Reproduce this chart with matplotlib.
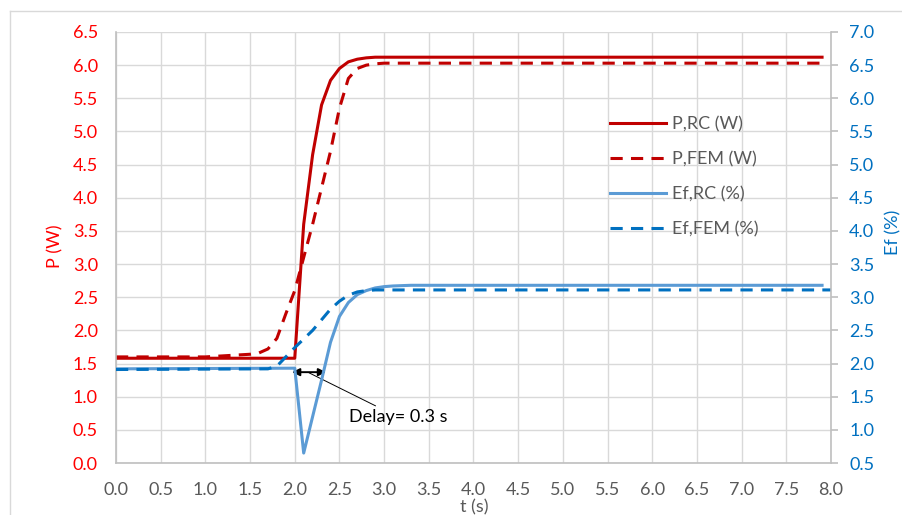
import numpy as np
import matplotlib
matplotlib.use("Agg")
import matplotlib.pyplot as plt
from matplotlib.lines import Line2D
from matplotlib.ticker import MultipleLocator, FormatStrFormatter

plt.rcParams['font.family'] = ['Lato', 'DejaVu Sans']

# power, RC model (W)
t_p_rc = [0.0, 2.0, 2.1, 2.2, 2.3, 2.4, 2.5, 2.6, 2.7, 2.8, 2.9, 3.0, 7.9]
p_rc = [1.58, 1.58, 3.6, 4.65, 5.4, 5.77, 5.95, 6.05, 6.09, 6.11, 6.12, 6.12, 6.12]

# power, FEM model (W)
t_p_fem = [0.0, 1.0, 1.5, 1.6, 1.7, 1.8, 1.9, 2.0, 2.1, 2.2, 2.3, 2.4, 2.5,
           2.6, 2.7, 2.8, 2.9, 3.0, 7.9]
p_fem = [1.60, 1.60, 1.64, 1.66, 1.72, 1.88, 2.25, 2.6, 3.1, 3.6, 4.15, 4.7,
         5.35, 5.8, 5.95, 6.0, 6.02, 6.03, 6.03]

# efficiency, RC model (%)
t_ef_rc = [0.0, 2.0, 2.1, 2.2, 2.3, 2.4, 2.5, 2.6, 2.7, 2.8, 2.9, 3.0, 3.1,
           3.3, 7.9]
ef_rc = [1.92, 1.93, 0.65, 1.2, 1.75, 2.32, 2.71, 2.92, 3.04, 3.1, 3.14,
         3.16, 3.17, 3.18, 3.18]

# efficiency, FEM model (%)
t_ef_fem = [0.0, 1.7, 1.8, 1.9, 2.0, 2.1, 2.2, 2.3, 2.4, 2.5, 2.6, 2.7,
            2.8, 2.9, 3.0, 8.0]
ef_fem = [1.91, 1.92, 1.96, 2.1, 2.24, 2.37, 2.5, 2.66, 2.82, 2.94, 3.03,
          3.08, 3.1, 3.11, 3.11, 3.11]

RED = '#C00000'
LBLUE = '#5B9BD5'
DBLUE = '#0070C0'
GRID = '#D9D9D9'
TXT = '#595959'
FS = 13

fig = plt.figure(figsize=(9.03, 5.15), dpi=100)
ax = fig.add_axes([116/903, 1-463/515, 715/903, 431/515])
ax2 = ax.twinx()

dash = (4, 2.7)
ax.plot(t_p_rc, p_rc, color=RED, lw=2.2, label='P,RC (W)')
ax.plot(t_p_fem, p_fem, color=RED, lw=2.2, dashes=dash, label='P,FEM (W)')
ax2.plot(t_ef_rc, ef_rc, color=LBLUE, lw=2.2, label='Ef,RC (%)')
ax2.plot(t_ef_fem, ef_fem, color=DBLUE, lw=2.2, dashes=dash, label='Ef,FEM (%)')

ax.set_xlim(0, 8)
ax.set_ylim(0, 6.5)
ax2.set_ylim(0.5, 7.0)
ax.xaxis.set_major_locator(MultipleLocator(0.5))
ax.yaxis.set_major_locator(MultipleLocator(0.5))
ax2.yaxis.set_major_locator(MultipleLocator(0.5))
for a in (ax.xaxis, ax.yaxis, ax2.yaxis):
    a.set_major_formatter(FormatStrFormatter('%.1f'))

ax.grid(True, color=GRID, lw=1.0)
ax.set_axisbelow(True)
for s in ('top', 'right'):
    ax.spines[s].set_visible(False)
for s in ('top', 'left', 'bottom'):
    ax2.spines[s].set_visible(False)
ax.spines['left'].set_color('#BFBFBF')
ax.spines['bottom'].set_color('#BFBFBF')
ax2.spines['right'].set_color('#BFBFBF')
for sp in (ax.spines['left'], ax.spines['bottom'], ax2.spines['right']):
    sp.set_linewidth(1.2)

ax.tick_params(axis='x', length=0, pad=14, labelsize=FS, labelcolor=TXT)
ax.tick_params(axis='y', length=0, pad=13, labelsize=FS, labelcolor='#FF0000')
ax2.tick_params(axis='y', length=5, width=1.2, color='#BFBFBF', pad=8,
                labelsize=FS, labelcolor=DBLUE)

fig.text(55/903, 1-246/515, 'P (W)', rotation=90, ha='center', va='center',
         color='#FF0000', fontsize=FS)
fig.text(893/903, 1-232/515, 'Ef (%)', rotation=90, ha='center', va='center',
         color=DBLUE, fontsize=FS)
fig.text(474/903, 1-507/515, 't (s)', ha='center', va='center',
         color=TXT, fontsize=FS)

# delay marker between the two efficiency responses
ax.annotate('', xy=(1.97, 1.37), xytext=(2.35, 1.37),
            arrowprops=dict(arrowstyle='<|-|>', color='black', lw=1.4,
                            mutation_scale=11, shrinkA=0, shrinkB=0))
ax.annotate('Delay= 0.3 s', xy=(2.16, 1.36), xytext=(2.61, 0.69),
            va='center', ha='left', fontsize=FS, color='black',
            arrowprops=dict(arrowstyle='-', color='black', lw=0.7,
                            shrinkA=1, shrinkB=0))

h1, l1 = ax.get_legend_handles_labels()
h2, l2 = ax2.get_legend_handles_labels()
fig.legend(h1 + h2, l1 + l2, loc='upper left',
           bbox_to_anchor=(610/903, 1-116/515), frameon=False,
           fontsize=FS, labelcolor=TXT, handlelength=3.1, handletextpad=0.35,
           labelspacing=1.05, borderpad=0, borderaxespad=0)

# outer chart frame
fig.add_artist(Line2D([10/903, 10/903], [0, 1-11/515], color=GRID, lw=1.0,
                      transform=fig.transFigure))
fig.add_artist(Line2D([10/903, 1], [1-11/515, 1-11/515], color=GRID, lw=1.0,
                      transform=fig.transFigure))

fig.savefig('out.png', dpi=100)
